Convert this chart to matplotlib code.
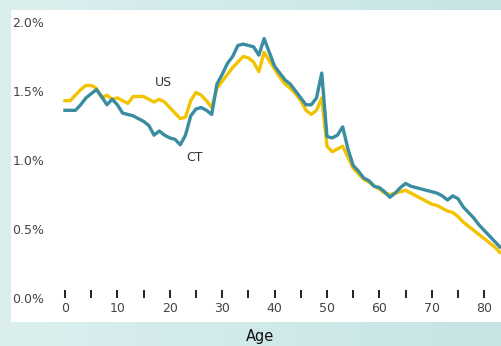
import matplotlib
matplotlib.use("Agg")
import matplotlib.pyplot as plt
import numpy as np

# share of population at each age, CT vs US (%)
ages = list(range(0, 84))
ct = [1.36, 1.36, 1.36, 1.40, 1.45, 1.48, 1.51, 1.46, 1.40, 1.44,
      1.40, 1.34, 1.33, 1.32, 1.30, 1.28, 1.25, 1.18, 1.21, 1.18,
      1.16, 1.15, 1.11, 1.18, 1.32, 1.37, 1.38, 1.36, 1.33, 1.55,
      1.62, 1.70, 1.75, 1.83, 1.84, 1.83, 1.82, 1.76, 1.88, 1.78,
      1.68, 1.63, 1.58, 1.55, 1.50, 1.45, 1.40, 1.40, 1.45, 1.63,
      1.17, 1.16, 1.18, 1.24, 1.08, 0.96, 0.92, 0.87, 0.85, 0.81,
      0.80, 0.77, 0.73, 0.76, 0.80, 0.83, 0.81, 0.80, 0.79, 0.78,
      0.77, 0.76, 0.74, 0.71, 0.74, 0.72, 0.66, 0.62, 0.58, 0.53,
      0.49, 0.45, 0.41, 0.37]
us = [1.43, 1.43, 1.47, 1.51, 1.54, 1.54, 1.52, 1.45, 1.47, 1.44,
      1.45, 1.43, 1.41, 1.46, 1.46, 1.46, 1.44, 1.42, 1.44, 1.42,
      1.38, 1.34, 1.30, 1.31, 1.43, 1.49, 1.47, 1.43, 1.38, 1.52,
      1.57, 1.62, 1.67, 1.71, 1.75, 1.74, 1.71, 1.64, 1.78, 1.72,
      1.66, 1.60, 1.55, 1.52, 1.48, 1.43, 1.36, 1.33, 1.36, 1.45,
      1.10, 1.06, 1.08, 1.10, 1.02, 0.94, 0.90, 0.86, 0.84, 0.81,
      0.79, 0.76, 0.75, 0.76, 0.77, 0.78, 0.76, 0.74, 0.72, 0.70,
      0.68, 0.67, 0.65, 0.63, 0.62, 0.59, 0.55, 0.52, 0.49, 0.46,
      0.43, 0.40, 0.37, 0.33]
yticks = [0.0, 0.5, 1.0, 1.5, 2.0]
xticks = [0, 10, 20, 30, 40, 50, 60, 70, 80]

fig = plt.figure(figsize=(5.02, 3.46), dpi=100)

# teal gradient background
bg = fig.add_axes([0, 0, 1, 1])
grad = np.linspace(0, 1, 256).reshape(1, -1)
bg.imshow(grad, aspect="auto", extent=[0, 1, 0, 1],
          cmap=matplotlib.colors.LinearSegmentedColormap.from_list("bg", ["#dcefef", "#c6e4e4"]))
bg.axis("off")

ax = fig.add_axes([11 / 502, 24 / 346, 491 / 502, 312 / 346])
ax.set_facecolor("white")
ax.plot(ages, us, color="#f2c300", lw=2.4)
ax.plot(ages, ct, color="#3a8ca0", lw=2.4)

ax.set_xlim(-10.3, 83.4)
ax.set_ylim(-0.174, 2.087)

for s in ["left", "right", "top"]:
    ax.spines[s].set_visible(False)
ax.spines["bottom"].set_position(("data", 0.0))
ax.spines["bottom"].set_visible(False)

ax.set_xticks(xticks)
ax.set_xticks([5, 15, 25, 35, 45, 55, 65, 75], minor=True)
ax.tick_params(axis="x", which="both", direction="in", length=6, width=1.4,
               color="#222222", pad=3, labelsize=9, labelcolor="#444444")
ax.set_yticks(yticks)
ax.set_yticklabels(["%.1f%%" % v for v in yticks])
ax.tick_params(axis="y", length=0, pad=-1, labelsize=9, labelcolor="#444444")
for lab in ax.get_yticklabels():
    lab.set_horizontalalignment("left")

ax.text(18.7, 1.56, "US", fontsize=9, color="#333333", ha="center", va="center")
ax.text(24.8, 1.02, "CT", fontsize=9, color="#333333", ha="center", va="center")

fig.text(260 / 502, 9 / 346, "Age", fontsize=10.5, color="#111111", ha="center", va="center")

fig.savefig("out.png", dpi=100)
